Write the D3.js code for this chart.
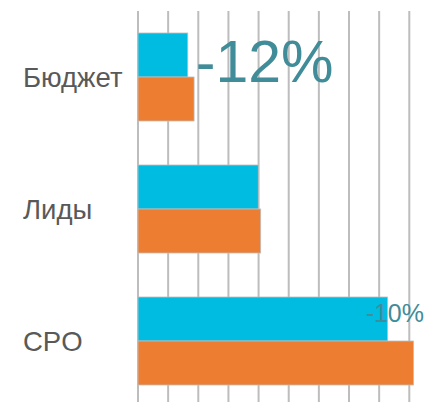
<!DOCTYPE html>
<html>
<head>
<meta charset="utf-8">
<script src="https://cdn.jsdelivr.net/npm/d3@7"></script>
<style>
  body { margin: 0; background: #fff; }
  svg { display: block; font-family: "Liberation Sans", Arial, sans-serif; }
</style>
</head>
<body>
<div id="root"></div>
<script>
// chart data
let categories = ['Бюджет', 'Лиды', 'CPO'],
    planValues = [1.65, 3.99, 8.28],
    factValues = [1.86, 4.07, 9.14],
    tickValues = [0, 1, 2, 3, 4, 5, 6, 7, 8, 9],
    notes = ['-12%', '', '-10%'];

let width = 428,
    height = 402,
    cyanColor = '#00BCE0',
    orangeColor = '#ED7D31',
    tealColor = '#418C99',
    gridColor = '#BDBDBD',
    labelColor = '#595959';

let svg = d3.select('#root').append('svg')
    .attr('width', width)
    .attr('height', height);

let x = d3.scaleLinear().domain([0, 9]).range([138, 409.3]);

let y = d3.scaleBand()
    .domain(categories)
    .range([11, 407])
    .paddingInner(1 / 3)
    .paddingOuter(1 / 6);

let sub = d3.scaleBand()
    .domain(['plan', 'fact'])
    .range([0, y.bandwidth()]);

// vertical grid lines
svg.append('g')
    .attr('class', 'grid')
    .selectAll('line')
    .data(tickValues)
    .enter()
    .append('line')
    .attr('x1', d => x(d))
    .attr('x2', d => x(d))
    .attr('y1', 11)
    .attr('y2', height)
    .attr('stroke', gridColor)
    .attr('stroke-width', 2);

// bars
let groups = svg.append('g')
    .selectAll('.barGroup')
    .data(categories)
    .enter()
    .append('g')
    .attr('class', 'barGroup')
    .attr('transform', d => 'translate(0,' + y(d) + ')');

groups.append('rect')
    .attr('x', x(0))
    .attr('y', sub('plan'))
    .attr('width', (d, i) => x(planValues[i]) - x(0))
    .attr('height', sub.bandwidth())
    .attr('fill', cyanColor)
    .attr('stroke', '#BDBDBD')
    .attr('stroke-width', 0.8);

groups.append('rect')
    .attr('x', x(0))
    .attr('y', sub('fact'))
    .attr('width', (d, i) => x(factValues[i]) - x(0))
    .attr('height', sub.bandwidth())
    .attr('fill', orangeColor)
    .attr('stroke', '#BDBDBD')
    .attr('stroke-width', 0.8);

// category labels
svg.append('g')
    .selectAll('text')
    .data(categories)
    .enter()
    .append('text')
    .attr('x', 23)
    .attr('y', d => y(d) + y.bandwidth() / 2 + 10)
    .attr('fill', labelColor)
    .attr('font-size', 27.5)
    .text(d => d);

// change annotations
svg.append('text')
    .attr('x', x(planValues[0]) + 8)
    .attr('y', y(categories[0]) + y.bandwidth() / 2 + 5)
    .attr('fill', tealColor)
    .attr('font-size', 59)
    .text(notes[0]);

svg.append('text')
    .attr('x', 424)
    .attr('y', y(categories[2]) + sub('plan') + sub.bandwidth() / 2 + 3)
    .attr('text-anchor', 'end')
    .attr('fill', tealColor)
    .attr('font-size', 25)
    .text(notes[2]);
</script>
</body>
</html>
